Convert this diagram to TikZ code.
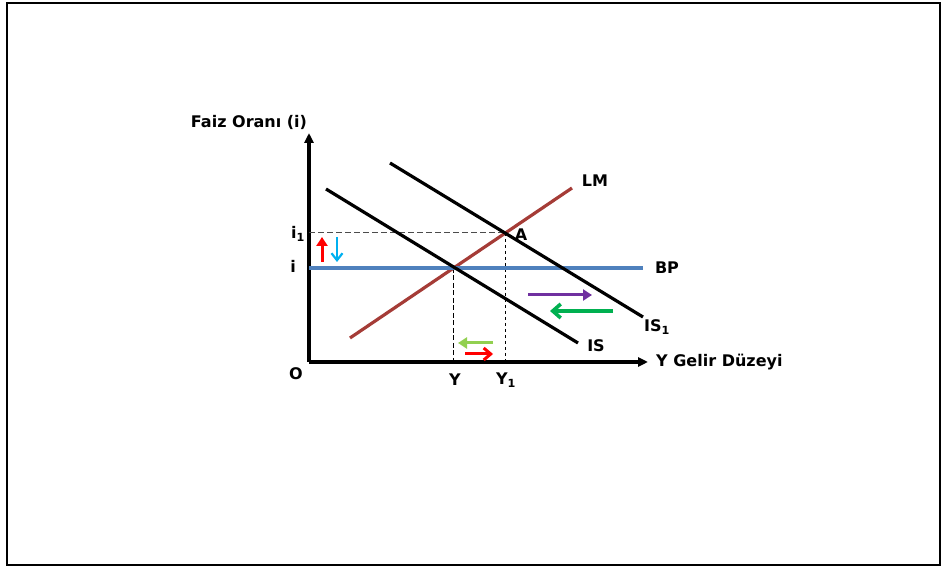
\documentclass[tikz,border=0pt]{standalone}
\usepackage{fontspec}
\setmainfont{DejaVu Sans}
\usetikzlibrary{arrows.meta}

\definecolor{lmred}{RGB}{165,60,55}
\definecolor{bpblue}{RGB}{79,129,189}
\definecolor{pur}{RGB}{112,48,160}
\definecolor{grn}{RGB}{0,176,80}
\definecolor{lgrn}{RGB}{146,208,80}
\definecolor{cyn}{RGB}{0,176,240}

\begin{document}
\begin{tikzpicture}[
  x=1pt, y=1pt,
  font=\bfseries\fontsize{16}{16}\selectfont,
  axis/.style={line width=3.2pt, -{Triangle[length=10pt,width=9pt]}},
  curve/.style={line width=3.2pt},
  guide/.style={line width=1pt, dash pattern=on 6pt off 3pt},
  move/.style={line width=3pt, -{Triangle[length=9pt,width=11pt]}},
  lbl/.style={inner sep=1pt}
]

% ===================== frame =====================
\useasboundingbox (-309,-205) rectangle (636,362);
\draw[line width=1.4pt] (-302,-203) rectangle (631,359);

% ===================== axes =====================
\coordinate (o)  at (0,0);
\coordinate (yt) at (0,229);
\coordinate (xt) at (339,0);

\draw[axis] (o) -- (yt);
\draw[axis] (o) -- (xt);

% ===================== curves =====================
\coordinate (is0) at (17,173);
\coordinate (is1) at (269,19);
\coordinate (js0) at (81,199);
\coordinate (js1) at (334,45);
\coordinate (lm0) at (41,24);
\coordinate (lm1) at (263,174);
\coordinate (bp0) at (0,94);
\coordinate (bp1) at (334,94);
\coordinate (e)   at (144,94);   % IS = LM = BP
\coordinate (a)   at (196,129);  % IS1 = LM
\coordinate (ia)  at (0,129);
\coordinate (ye)  at (144,0);
\coordinate (ya)  at (196,0);

% guides
\draw[guide, draw=black!70] (ia) -- (a);
\draw[guide, dash pattern=on 5pt off 2.5pt] (e) -- (ye);
\draw[guide, dash pattern=on 3.5pt off 2.5pt] (a) -- (ya);

\draw[curve, draw=lmred] (lm0) -- (lm1);
\draw[curve, draw=bpblue] (bp0) -- (bp1);
\draw[curve] (is0) -- (is1);
\draw[curve] (js0) -- (js1);

% ===================== moves =====================
\coordinate (p0) at (219,67);  \coordinate (p1) at (283,67);
\coordinate (g0) at (304,51);  \coordinate (g1) at (241,51);
\coordinate (l0) at (184,19);  \coordinate (l1) at (149,19);
\coordinate (r0) at (156,8);   \coordinate (r1) at (184,8);
\coordinate (u0) at (13,100);  \coordinate (u1) at (13,125);
\coordinate (d0) at (28,125);  \coordinate (d1) at (28,100);

\draw[move, draw=pur] (p0) -- (p1);
\draw[move, draw=grn, line width=3.6pt, -{Straight Barb[length=8pt,width=14pt,line width=3.6pt]}] (g0) -- (g1);
\draw[move, draw=lgrn, line width=3pt] (l0) -- (l1);
\draw[move, draw=red, line width=3pt, -{Straight Barb[length=7pt,width=12pt,line width=3pt]}] (r0) -- (r1);
\draw[move, draw=red, line width=3pt] (u0) -- (u1);
\draw[move, draw=cyn, line width=2.2pt, -{Straight Barb[length=7pt,width=11pt,line width=2.2pt]}] (d0) -- (d1);

% ===================== labels =====================
\node[lbl] (faiz) at (-60,240) {Faiz Oranı (i)};
\node[lbl, right] (gelir) at (346,0) {Y Gelir Düzeyi};
\node[lbl] (orig) at (-13,-12) {O};
\node[lbl] (yl)   at (146,-18) {Y};
\node[lbl] (y1l)  at (197,-18) {Y\textsubscript{1}};
\node[lbl] (il)   at (-16,96) {i};
\node[lbl] (i1l)  at (-11,128) {i\textsubscript{1}};
\node[lbl] (lml)  at (286,181) {LM};
\node[lbl] (al)   at (212,127) {A};
\node[lbl] (bpl)  at (358,94) {BP};
\node[lbl] (js)   at (348,35) {IS\textsubscript{1}};
\node[lbl] (isl)  at (287,16) {IS};

\end{tikzpicture}
\end{document}
